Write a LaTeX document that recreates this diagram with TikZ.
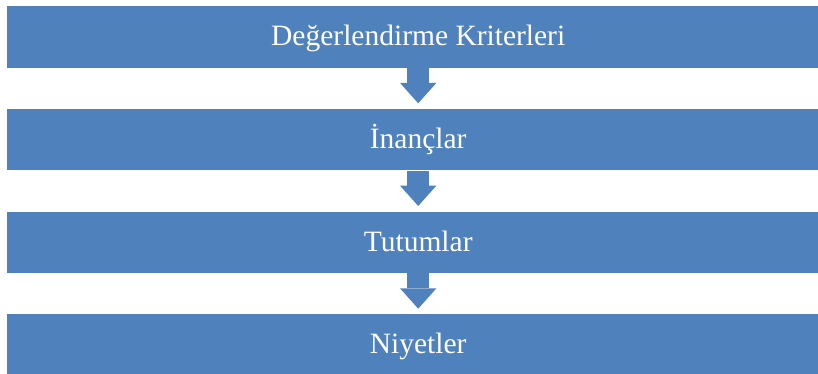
\documentclass[tikz,border=0pt]{standalone}
\usepackage{fontspec}
\setmainfont{Liberation Serif}
\usepackage{tikz}
\usepackage{xcolor}
\usetikzlibrary{arrows.meta, positioning}

\definecolor{boxblue}{HTML}{4F81BD}

\begin{document}
\begin{tikzpicture}[x=1pt, y=-1pt,
        stage/.style={fill=boxblue, minimum width=821.5pt, minimum height=61.6pt,
            inner sep=0pt, text=white, text height=23pt, text depth=5.4pt,
            font=\fontsize{29.5}{34}\selectfont},
        flow/.style={boxblue, line width=22.3pt, shorten >=5.3pt,
            -{Triangle[length=20.4pt, width=36.4pt, line width=0pt]}},
        node distance=40.7pt]
        \useasboundingbox (0,0) rectangle (818,374);

        % Stages
        \node[stage] (kriter) at (418.2, 36.9) {Değerlendirme Kriterleri};
        \node[stage, below=of kriter] (inanc) {İnançlar};
        \node[stage, below=of inanc] (tutum) {Tutumlar};
        \node[stage, below=of tutum] (niyet) {Niyetler};

        % Block arrows
        \draw[flow] (kriter.south) -- (inanc.north);
        \draw[flow] (inanc.south) -- (tutum.north);
        \draw[flow] (tutum.south) -- (niyet.north);

    \end{tikzpicture}
\end{document}
